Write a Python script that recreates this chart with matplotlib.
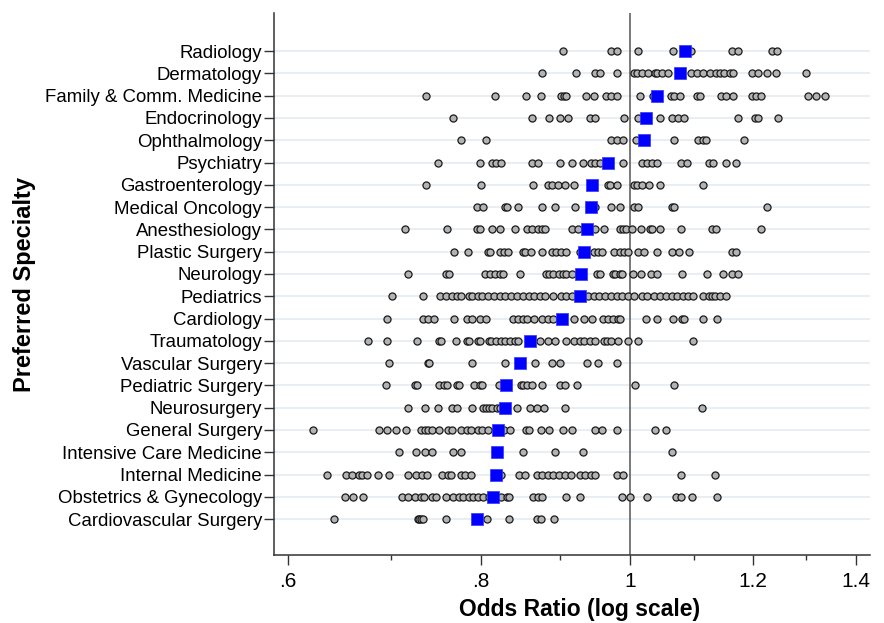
import matplotlib
matplotlib.use("Agg")
import matplotlib.pyplot as plt
from matplotlib.ticker import FixedLocator, NullFormatter

plt.rcParams['font.family'] = ['Liberation Sans', 'DejaVu Sans']

# specialties, bottom to top
specialties = ["Cardiovascular Surgery", "Obstetrics & Gynecology", "Internal Medicine",
               "Intensive Care Medicine", "General Surgery", "Neurosurgery",
               "Pediatric Surgery", "Vascular Surgery", "Traumatology", "Cardiology",
               "Pediatrics", "Neurology", "Plastic Surgery", "Anesthesiology",
               "Medical Oncology", "Gastroenterology", "Psychiatry", "Ophthalmology",
               "Endocrinology", "Family & Comm. Medicine", "Dermatology", "Radiology"]

# pooled odds ratio per specialty (blue squares), same order
means = [0.796, 0.815, 0.818, 0.819, 0.821, 0.830, 0.831, 0.848, 0.861, 0.903, 0.928,
         0.929, 0.933, 0.937, 0.943, 0.944, 0.967, 1.021, 1.024, 1.041, 1.077, 1.085]

# individual odds ratios (grey circles)
cardiovascular_surgery = [0.643, 0.728, 0.730, 0.732, 0.734, 0.760, 0.808, 0.834, 0.870,
                          0.875, 0.892]
obstetrics = [0.653, 0.661, 0.671, 0.711, 0.718, 0.725, 0.732, 0.735, 0.744, 0.748, 0.760,
              0.768, 0.774, 0.779, 0.786, 0.791, 0.797, 0.803, 0.810, 0.816, 0.825, 0.832,
              0.834, 0.865, 0.871, 0.877, 0.909, 0.927, 0.988, 0.999, 1.025, 1.071, 1.078,
              1.097, 1.138]
internal_medicine = [0.636, 0.654, 0.660, 0.667, 0.670, 0.675, 0.686, 0.698, 0.718, 0.726,
                     0.733, 0.738, 0.755, 0.762, 0.765, 0.777, 0.781, 0.788, 0.824, 0.847,
                     0.854, 0.870, 0.877, 0.884, 0.891, 0.899, 0.907, 0.915, 0.928, 0.934,
                     0.943, 0.948, 0.980, 0.989, 1.078, 1.135]
intensive_care = [0.708, 0.726, 0.736, 0.744, 0.768, 0.777, 0.852, 0.894, 0.932, 1.064]
general_surgery = [0.623, 0.687, 0.696, 0.705, 0.716, 0.732, 0.736, 0.739, 0.744, 0.752,
                   0.762, 0.766, 0.777, 0.784, 0.788, 0.797, 0.802, 0.809, 0.818, 0.828,
                   0.836, 0.856, 0.859, 0.875, 0.886, 0.904, 0.917, 0.948, 0.959, 0.981,
                   1.037, 1.054]
neurosurgery = [0.718, 0.736, 0.751, 0.766, 0.772, 0.789, 0.803, 0.806, 0.810, 0.814,
                0.819, 0.823, 0.844, 0.861, 0.870, 0.879, 0.907, 1.113]
pediatric_surgery = [0.694, 0.725, 0.727, 0.752, 0.757, 0.761, 0.772, 0.774, 0.792, 0.799,
                     0.802, 0.822, 0.850, 0.852, 0.857, 0.864, 0.876, 0.900, 0.907, 0.924,
                     1.007, 1.068]
vascular_surgery = [0.698, 0.739, 0.741, 0.790, 0.830, 0.868, 0.890, 0.901, 0.937, 0.953,
                    0.981]
traumatology = [0.676, 0.696, 0.727, 0.752, 0.754, 0.771, 0.784, 0.786, 0.797, 0.799,
                0.810, 0.812, 0.818, 0.825, 0.830, 0.835, 0.842, 0.846, 0.874, 0.885,
                0.894, 0.908, 0.920, 0.927, 0.933, 0.941, 0.948, 0.962, 0.966, 0.971,
                0.982, 0.997, 1.012, 1.098]
cardiology = [0.696, 0.734, 0.739, 0.746, 0.769, 0.784, 0.790, 0.799, 0.806, 0.839, 0.846,
              0.852, 0.857, 0.866, 0.876, 0.884, 0.891, 0.920, 0.933, 0.944, 0.960, 0.967,
              0.975, 0.982, 0.985, 1.024, 1.041, 1.065, 1.080, 1.084, 1.114, 1.138]
pediatrics = [0.701, 0.734, 0.753, 0.760, 0.766, 0.772, 0.777, 0.786, 0.790, 0.797, 0.802,
              0.809, 0.816, 0.823, 0.830, 0.837, 0.844, 0.852, 0.859, 0.866, 0.874, 0.881,
              0.891, 0.902, 0.909, 0.917, 0.939, 0.947, 0.955, 0.963, 0.971, 0.980, 0.988,
              0.997, 1.005, 1.017, 1.025, 1.036, 1.046, 1.055, 1.064, 1.072, 1.081, 1.090,
              1.098, 1.114, 1.124, 1.130, 1.135, 1.143, 1.153]
neurology = [0.718, 0.760, 0.763, 0.805, 0.811, 0.817, 0.823, 0.827, 0.848, 0.882, 0.886,
             0.891, 0.899, 0.904, 0.909, 0.917, 0.952, 0.956, 0.974, 0.977, 0.984, 0.987,
             1.004, 1.016, 1.031, 1.040, 1.080, 1.122, 1.148, 1.164, 1.174]
plastic_surgery = [0.769, 0.785, 0.809, 0.811, 0.823, 0.828, 0.833, 0.852, 0.855, 0.862,
                   0.876, 0.889, 0.895, 0.902, 0.909, 0.928, 0.947, 0.953, 0.958, 0.976,
                   0.984, 0.991, 0.997, 1.011, 1.021, 1.041, 1.064, 1.075, 1.092, 1.163,
                   1.171]
anesthesiology = [0.714, 0.761, 0.795, 0.799, 0.814, 0.823, 0.842, 0.857, 0.863, 0.871,
                  0.876, 0.880, 0.916, 0.925, 0.949, 0.962, 0.985, 0.989, 0.994, 1.002,
                  1.016, 1.030, 1.033, 1.046, 1.078, 1.130, 1.136, 1.216]
medical_oncology = [0.796, 0.803, 0.829, 0.832, 0.846, 0.876, 0.894, 0.921, 0.948, 0.972,
                    0.984, 1.005, 1.011, 1.064, 1.067, 1.227]
gastroenterology = [0.737, 0.800, 0.865, 0.884, 0.889, 0.897, 0.907, 0.920, 0.967, 0.970,
                    0.981, 1.006, 1.010, 1.018, 1.028, 1.046, 1.114]
psychiatry = [0.750, 0.799, 0.813, 0.818, 0.824, 0.864, 0.871, 0.900, 0.917, 0.932, 0.943,
              0.948, 0.956, 0.989, 1.018, 1.025, 1.033, 1.041, 1.078, 1.089, 1.124, 1.131,
              1.154, 1.170]
ophthalmology = [0.777, 0.806, 0.971, 0.980, 0.989, 1.008, 1.068, 1.106, 1.114, 1.120, 1.185]
endocrinology = [0.768, 0.864, 0.886, 0.901, 0.911, 0.941, 0.948, 0.991, 1.011, 1.046,
                 1.064, 1.073, 1.083, 1.174, 1.204, 1.209, 1.247]
family_medicine = [0.737, 0.817, 0.856, 0.875, 0.902, 0.906, 0.909, 0.936, 0.947, 0.965,
                   0.971, 0.980, 1.014, 1.034, 1.063, 1.067, 1.077, 1.105, 1.109, 1.145,
                   1.153, 1.166, 1.199, 1.207, 1.216, 1.304, 1.319, 1.338]
dermatology = [0.876, 0.922, 0.948, 0.956, 0.980, 1.005, 1.010, 1.017, 1.027, 1.037, 1.041,
               1.049, 1.058, 1.095, 1.105, 1.114, 1.127, 1.136, 1.143, 1.150, 1.160, 1.166,
               1.199, 1.209, 1.227, 1.242, 1.300]
radiology = [0.904, 0.971, 0.980, 1.012, 1.065, 1.095, 1.163, 1.174, 1.235, 1.245]

point_sets = [cardiovascular_surgery, obstetrics, internal_medicine, intensive_care,
              general_surgery, neurosurgery, pediatric_surgery, vascular_surgery,
              traumatology, cardiology, pediatrics, neurology, plastic_surgery,
              anesthesiology, medical_oncology, gastroenterology, psychiatry,
              ophthalmology, endocrinology, family_medicine, dermatology, radiology]

major_ticks = [0.6, 0.8, 1.0, 1.2, 1.4]
major_labels = [".6", ".8", "1", "1.2", "1.4"]
minor_ticks = [0.7, 0.9, 1.1, 1.3]

fig = plt.figure(figsize=(8.84, 6.23), dpi=100)
ax = fig.add_axes([0.310, 0.109, 0.674, 0.870])

rows = list(range(1, len(specialties) + 1))

for y in rows:
    ax.axhline(y, color="#e6eef3", lw=1.3, zorder=0)

ax.axvline(1.0, color="#555555", lw=1.1, zorder=1.5)

for y, vals in zip(rows, point_sets):
    ax.scatter(vals, [y] * len(vals), s=26, facecolor="#b3b3b3", edgecolor="#1a1a1a",
               linewidth=0.9, zorder=2)

ax.scatter(means, rows, s=80, marker="s", color="#0000ff", edgecolor="#3333ff",
           linewidth=0.5, zorder=3)

ax.set_xscale("log")
ax.set_xlim(0.5876, 1.4296)
ax.set_ylim(-0.615, 23.705)

ax.xaxis.set_major_locator(FixedLocator(major_ticks))
ax.set_xticklabels(major_labels)
ax.xaxis.set_minor_locator(FixedLocator(minor_ticks))
ax.xaxis.set_minor_formatter(NullFormatter())
ax.tick_params(axis="x", which="major", length=7, width=1, labelsize=15, pad=5,
               color="#333333")
ax.tick_params(axis="x", which="minor", length=3.5, width=1, color="#333333")

ax.set_yticks(rows)
ax.set_yticklabels(specialties)
ax.tick_params(axis="y", length=7.5, width=1, labelsize=13.4, pad=1, color="#333333")

for side in ["top", "right"]:
    ax.spines[side].set_visible(False)
for side in ["left", "bottom"]:
    ax.spines[side].set_color("#333333")
    ax.spines[side].set_linewidth(1.1)

ax.set_xlabel("Odds Ratio (log scale)", fontsize=16.5, fontweight="bold")
ax.xaxis.label.set_verticalalignment("bottom")
ax.xaxis.set_label_coords(0.513, -0.122)
ax.set_ylabel("Preferred Specialty", fontsize=17, fontweight="bold", labelpad=7)

fig.savefig("out.png", dpi=100)
